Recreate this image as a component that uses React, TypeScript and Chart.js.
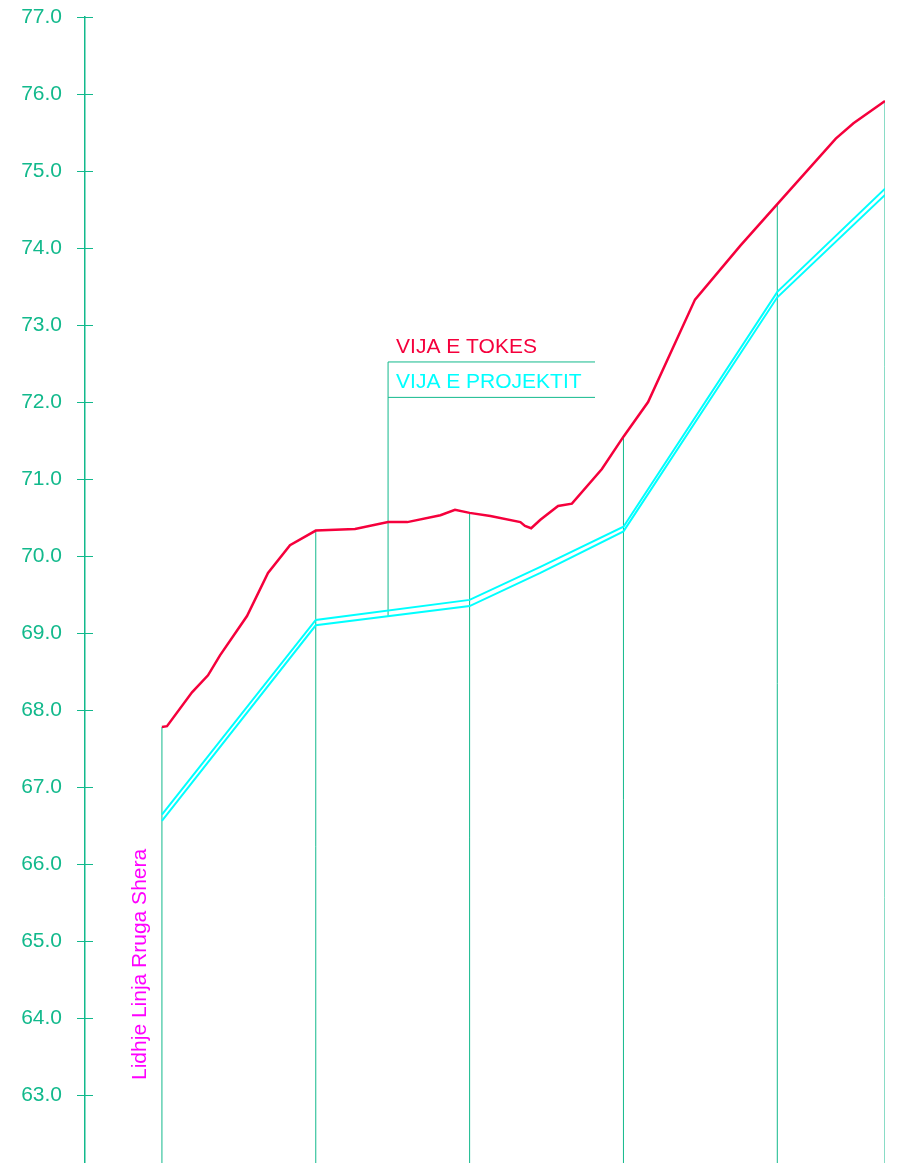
import React, { useEffect, useRef } from "react";
import { Chart, registerables } from "chart.js";

Chart.register(...registerables);

// Stations (m) where the vertical profile lines are drawn
const STATIONS = [0, 20, 40, 60, 80, 94];

// Ground line (VIJA E TOKES)
const GROUND_X = [0, 0.66, 3.91, 5.99, 7.55, 11.06, 13.79, 16.65, 20, 25.1, 29.4, 31.9, 36.2, 38.1, 40, 42.7, 46.6, 47.2, 48.0, 49.2, 51.5, 53.3, 57.2, 60, 63.2, 69.3, 75.2, 80, 87.6, 89.9, 94];
const GROUND_Y = [67.78, 67.79, 68.23, 68.45, 68.71, 69.22, 69.78, 70.14, 70.33, 70.35, 70.44, 70.44, 70.53, 70.6, 70.56, 70.52, 70.44, 70.39, 70.36, 70.47, 70.65, 70.68, 71.13, 71.55, 72.0, 73.33, 74.03, 74.57, 75.42, 75.62, 75.91];

// Design line (VIJA E PROJEKTIT), drawn as a double line
const PROJ_X = [0, 20, 40, 49.2, 60, 80, 94];
const PROJ_UPPER = [66.64, 69.17, 69.43, 69.86, 70.38, 73.43, 74.77];
const PROJ_LOWER = [66.56, 69.1, 69.35, 69.78, 70.32, 73.36, 74.69];

// Y axis
const Y_TICKS = [63, 64, 65, 66, 67, 68, 69, 70, 71, 72, 73, 74, 75, 76, 77];
const Y_MIN = 62.117;
const Y_MAX = 77;
const X_MIN = -10;
const X_MAX = 94;

// Legend leader
const LEADER_X = 29.4;
const LEADER_BOTTOM = 69.22;
const LEADER_TOP = 72.52;
const LEADER_MID = 72.06;
const LEADER_END = 56.3;

const LABEL_GROUND = "VIJA E TOKES";
const LABEL_PROJECT = "VIJA E PROJEKTIT";
const SIDE_LABEL = "Lidhje Linja Rruga Shera";

const RED = "#f5003c";
const CYAN = "#00ffff";
const TEAL = "#12b98c";
const MAGENTA = "#ff00ff";
const FONT = "'Liberation Sans', Arial, sans-serif";

const pts = (xs: number[], ys: number[]) => xs.map((x, i) => ({ x, y: ys[i] }));

const annotationPlugin = {
  id: "annotations",
  afterDraw(chart: any) {
    const { ctx, chartArea, scales } = chart;
    const xs = scales.x;
    const ys = scales.y;
    ctx.save();
    // inner halves of the y axis ticks
    ctx.strokeStyle = TEAL;
    ctx.lineWidth = 1;
    Y_TICKS.forEach((v) => {
      const py = Math.round(ys.getPixelForValue(v)) + 0.5;
      ctx.beginPath();
      ctx.moveTo(chartArea.left, py);
      ctx.lineTo(chartArea.left + 8, py);
      ctx.stroke();
    });
    // legend labels
    ctx.font = `21px ${FONT}`;
    ctx.textAlign = "left";
    ctx.textBaseline = "alphabetic";
    const lx = xs.getPixelForValue(LEADER_X) + 8;
    ctx.fillStyle = RED;
    ctx.fillText(LABEL_GROUND, lx, ys.getPixelForValue(LEADER_TOP) - 9);
    ctx.fillStyle = CYAN;
    ctx.fillText(LABEL_PROJECT, lx, ys.getPixelForValue(LEADER_MID) - 9);
    // rotated side label
    const sx = xs.getPixelForValue(STATIONS[0]) - 16;
    const sy = ys.getPixelForValue(63.195);
    ctx.translate(sx, sy);
    ctx.rotate(-Math.PI / 2);
    ctx.fillStyle = MAGENTA;
    ctx.fillText(SIDE_LABEL, 0, 0);
    ctx.restore();
  },
};

export default function App() {
  const ref = useRef<HTMLCanvasElement>(null);
  useEffect(() => {
    const stationSets = STATIONS.map((s) => ({
      data: [
        { x: s, y: Y_MIN },
        { x: s, y: GROUND_Y[GROUND_X.indexOf(s)] },
      ],
      borderColor: TEAL,
      borderWidth: 1,
      pointRadius: 0,
      fill: false,
    }));
    const chart = new Chart(ref.current as HTMLCanvasElement, {
      type: "line",
      data: {
        datasets: [
          { data: pts(GROUND_X, GROUND_Y), borderColor: RED, borderWidth: 2.5, pointRadius: 0, fill: false, tension: 0 },
          { data: pts(PROJ_X, PROJ_UPPER), borderColor: CYAN, borderWidth: 2, pointRadius: 0, fill: false, tension: 0 },
          { data: pts(PROJ_X, PROJ_LOWER), borderColor: CYAN, borderWidth: 2, pointRadius: 0, fill: false, tension: 0 },
          {
            data: [
              { x: LEADER_X, y: LEADER_BOTTOM },
              { x: LEADER_X, y: LEADER_TOP },
              { x: LEADER_END, y: LEADER_TOP },
            ],
            borderColor: TEAL,
            borderWidth: 1,
            pointRadius: 0,
            fill: false,
          },
          {
            data: [
              { x: LEADER_X, y: LEADER_MID },
              { x: LEADER_END, y: LEADER_MID },
            ],
            borderColor: TEAL,
            borderWidth: 1,
            pointRadius: 0,
            fill: false,
          },
          ...stationSets,
        ] as any,
      },
      options: {
        animation: false,
        responsive: true,
        maintainAspectRatio: false,
        devicePixelRatio: 1,
        layout: { padding: { top: 17, right: 28, bottom: 0, left: 0 } },
        plugins: { legend: { display: false }, tooltip: { enabled: false } },
        scales: {
          x: { type: "linear", min: X_MIN, max: X_MAX, display: false },
          y: {
            type: "linear",
            min: Y_MIN,
            max: Y_MAX,
            afterFit: (s: any) => {
              s.width = 85;
              s.paddingTop = 0;
              s.paddingBottom = 0;
            },
            afterBuildTicks: (s: any) => {
              s.ticks = Y_TICKS.map((v) => ({ value: v }));
            },
            ticks: {
              color: TEAL,
              padding: 15,
              font: { family: FONT, size: 21 },
              callback: (v: any) => Number(v).toFixed(1),
            },
            grid: { drawOnChartArea: false, drawTicks: true, tickLength: 8, color: TEAL, lineWidth: 1 },
            border: { display: true, color: TEAL, width: 1.5 },
          },
        },
      },
      plugins: [annotationPlugin],
    });
    return () => chart.destroy();
  }, []);
  return (
    <div style={{ position: "absolute", left: 0, top: 0, width: 913, height: 1163 }}>
      <canvas ref={ref} />
    </div>
  );
}
